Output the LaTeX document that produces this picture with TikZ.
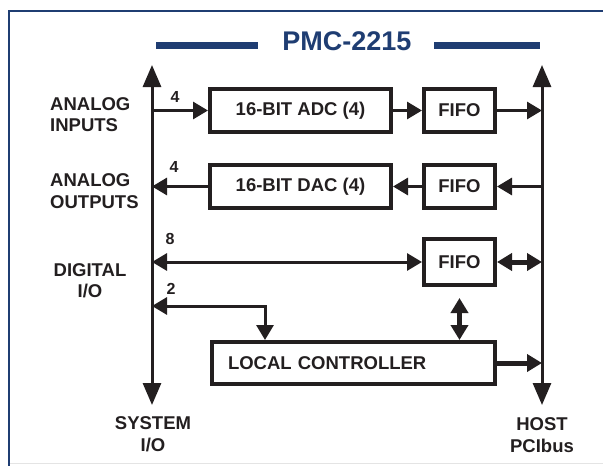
\documentclass[tikz,border=0pt]{standalone}
\usepackage{fontspec}
\setmainfont{Liberation Sans}
\usepackage{xcolor}
\usetikzlibrary{arrows.meta,positioning}
\definecolor{ink}{HTML}{231F20}
\definecolor{navy}{HTML}{1F3D72}
\definecolor{edgegray}{HTML}{E4E4E4}
\tikzset{
    every picture/.style={line join=miter},
    blockbox/.style={draw=ink,line width=4pt,minimum height=43pt,inner sep=0pt,
      font=\bfseries\fontsize{18.5}{21.5}\selectfont,text=ink,align=center},
    fifobox/.style={blockbox,minimum width=71pt},
    sidelabel/.style={inner sep=0pt,text=ink,
      font=\bfseries\fontsize{18.5}{21.5}\selectfont},
    widthlabel/.style={inner sep=0pt,text=ink,
      font=\bfseries\fontsize{16}{18}\selectfont},
    busline/.style={draw=ink,line width=3pt,
      {Triangle[length=22pt,width=18pt]}-{Triangle[length=22pt,width=18pt]}},
    flowarrow/.style={->,draw=ink,line width=3pt},
    heavyarrow/.style={flowarrow,line width=5pt}
}

\begin{document}
\begin{tikzpicture}[x=1pt,y=-1pt,>={Triangle[length=15pt,width=17pt]}]
  \useasboundingbox[fill=white] (0,0) rectangle (603,466);
  % frame and title
  \draw[edgegray,line width=1.5pt] (9,463.5) -- (603,463.5);
  \draw[navy,line width=2.5pt] (9,466) -- (9,11) -- (603,11);
  \node[inner sep=0pt,text=navy,font=\bfseries\fontsize{27}{30}\selectfont] (title) at (347,41.5) {PMC-2215};
  \fill[navy] (156,42) rectangle (258,49);
  \fill[navy] (434,42) rectangle (540,49);
  % buses
  \coordinate (sysTop) at (152,65);
  \coordinate (sysBot) at (152,405);
  \coordinate (hostTop) at (542,65);
  \coordinate (hostBot) at (542,405);
  \draw[busline] (sysBot) -- (sysTop);
  \draw[busline] (hostBot) -- (hostTop);
  % blocks
  \node[blockbox,minimum width=181pt] (adc) at (300.5,110.5) {16-BIT ADC (4)};
  \node[fifobox,right=29pt of adc] (fifoA) {FIFO};
  \node[blockbox,minimum width=181pt,below=29pt of adc] (dac) {16-BIT DAC (4)};
  \node[fifobox,below=29pt of fifoA] (fifoB) {FIFO};
  \node[fifobox,minimum height=46pt,below=27pt of fifoB] (fifoC) {FIFO};
  \node[blockbox,minimum height=42pt,text width=251pt,inner xsep=16pt,align=left] (ctl) at (353.5,363) {LOCAL CONTROLLER};
  % connectors
  \draw[flowarrow] (adc.west -| sysTop) -- (adc.west);
  \draw[flowarrow] (adc) -- (fifoA);
  \draw[flowarrow] (fifoA.east) -- (fifoA.east -| hostTop);
  \draw[flowarrow] (fifoB.east -| hostTop) -- (fifoB.east);
  \draw[flowarrow] (fifoB) -- (dac);
  \draw[flowarrow] (dac.west) -- (dac.west -| sysTop);
  \draw[flowarrow,<->] (fifoC.west -| sysTop) -- (fifoC.west);
  \draw[heavyarrow,<->] (fifoC.east) -- (fifoC.east -| hostTop);
  \coordinate (ctlTurn) at (265,306);
  \draw[flowarrow,<->] (ctlTurn -| sysTop) -- (ctlTurn) -- (ctlTurn |- ctl.north);
  \draw[heavyarrow,<->] ([yshift=-11pt]fifoC.south) -- (fifoC.south |- ctl.north);
  \draw[heavyarrow] (ctl.east) -- (ctl.east -| hostTop);
  % line counts
  \node[widthlabel] (wAdc) at (175,97) {4};
  \node[widthlabel] (wDac) at (174,167) {4};
  \node[widthlabel] (wDig) at (170,239) {8};
  \node[widthlabel] (wCtl) at (171,289) {2};
  % side labels
  \node[sidelabel,align=left,anchor=west] (ain) at (50,114.5) {ANALOG\\INPUTS};
  \node[sidelabel,align=left,anchor=west] (aout) at (50,191) {ANALOG\\OUTPUTS};
  \node[sidelabel,align=center] (dio) at (90,280.5) {DIGITAL\\I/O};
  \node[sidelabel,align=center] (sysio) at (153,434) {SYSTEM\\I/O};
  \node[sidelabel,align=center] (host) at (542,435) {HOST\\PCIbus};
\end{tikzpicture}
\end{document}
